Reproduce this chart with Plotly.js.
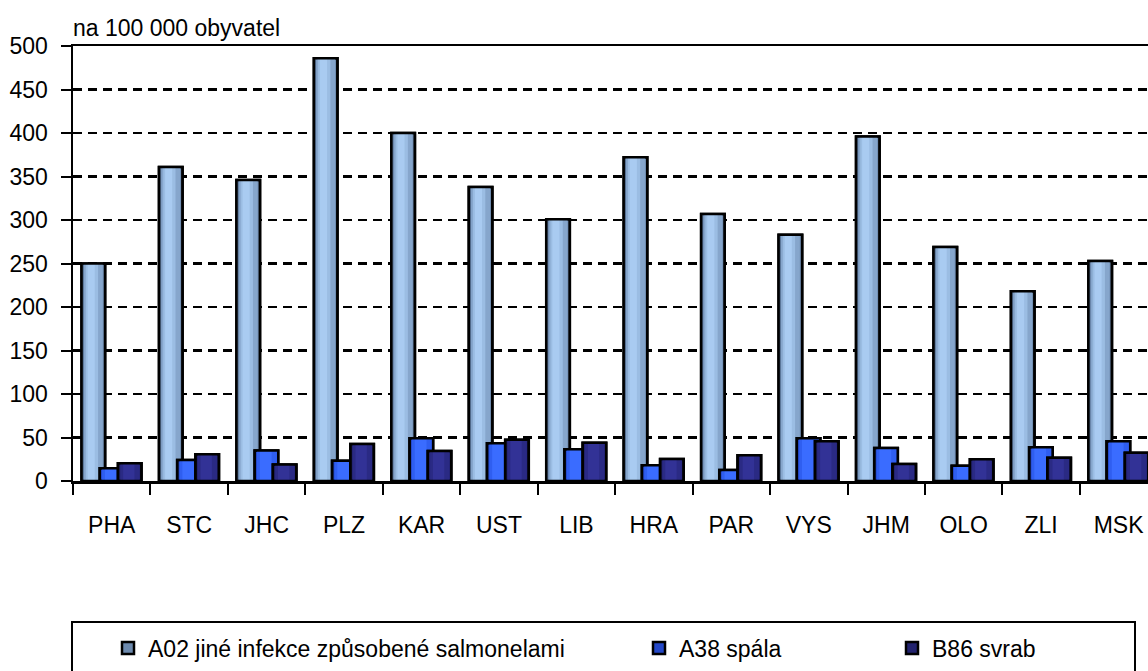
<!DOCTYPE html>
<html>
<head>
<meta charset="utf-8">
<script src="https://cdn.plot.ly/plotly-3.0.1.min.js"></script>
<style>html,body{margin:0;padding:0;background:#fff;}#chart{width:1148px;height:671px;}</style>
</head>
<body>
<div id="chart"></div>
<script>
// ---- data ----
const categories = ['PHA','STC','JHC','PLZ','KAR','UST','LIB','HRA','PAR','VYS','JHM','OLO','ZLI','MSK'];
const seriesNames = ['A02 jiné infekce způsobené salmonelami', 'A38 spála', 'B86 svrab'];
const a02 = [250, 361, 346, 486, 400, 338, 301, 372, 307, 283, 396, 269, 218, 253];
const a38 = [14.6, 24, 35, 23.4, 49, 43.3, 36.4, 18, 12.6, 49, 38, 17.6, 38.7, 45.6];
const b86 = [20.3, 30.7, 19, 42.5, 34.5, 47.5, 44, 25.3, 29.5, 45.6, 19.5, 25, 26.8, 32.5];
const yTicks = [0, 50, 100, 150, 200, 250, 300, 350, 400, 450, 500];
const yTitle = 'na 100 000 obyvatel';

// ---- style ----
const FONT = '"Liberation Sans Narrow", "Arial Narrow", "Liberation Sans", Arial, sans-serif';
const FS = 23;
const BW = 0.305;
const styles = [
  {data: a02, offset: -0.39, base: '#6d8aae', layers: [[0.0,0.09,'#50698a'],[0.10,0.90,'#86a6cc'],[0.18,0.70,'#9bbde3'],[0.26,0.56,'#a9cbf1']], legend: 'legend'},
  {data: a38, offset: -0.155, base: '#2448c8', layers: [[0.10,0.95,'#2f5ef0'],[0.22,0.72,'#3a6cff']], legend: 'legend2'},
  {data: b86, offset: 0.08, base: '#22226e', layers: [[0.10,0.92,'#2a2a84'],[0.22,0.70,'#323296']], legend: 'legend3'}
];

const traces = [];
styles.forEach((s, i) => {
  traces.push({
    type: 'bar', x: categories, y: s.data, name: seriesNames[i],
    offset: s.offset, width: BW,
    marker: {color: s.base, line: {color: '#000', width: 2.5}},
    legend: s.legend, hoverinfo: 'skip'
  });
  s.layers.forEach(l => {
    traces.push({
      type: 'bar', x: categories, y: s.data, showlegend: false,
      offset: s.offset + l[0] * BW, width: (l[1] - l[0]) * BW,
      marker: {color: l[2], line: {width: 0}}, hoverinfo: 'skip'
    });
  });
  traces.push({
    type: 'bar', x: categories, y: s.data, showlegend: false,
    offset: s.offset, width: BW,
    marker: {color: 'rgba(0,0,0,0)', line: {color: '#000', width: 2.5}}, hoverinfo: 'skip'
  });
});

const ML = 73, MT = 46, PW = 1075, PH = 435;
const CATW = 77.45;
const px2x = p => (p - ML) / PW;
const px2y = p => (MT + PH - p) / PH;

const legendCommon = {
  orientation: 'h', xanchor: 'left', yanchor: 'middle',
  font: {family: FONT, size: FS, color: '#000'},
  bgcolor: 'rgba(0,0,0,0)', borderwidth: 0, itemwidth: 30
};

const layout = {
  width: 1148, height: 671,
  margin: {l: ML, r: 0, t: MT, b: 671 - MT - PH, pad: 0},
  paper_bgcolor: '#fff', plot_bgcolor: '#fff',
  barmode: 'overlay',
  showlegend: true,
  font: {family: FONT, size: FS, color: '#000'},
  xaxis: {
    type: 'category', range: [-0.5, -0.5 + PW / CATW],
    showline: true, linecolor: '#000', linewidth: 2.5, mirror: true,
    ticks: 'outside', tickson: 'boundaries', ticklen: 11, tickwidth: 2, tickcolor: '#000',
    showgrid: false, zeroline: false,
    tickfont: {family: FONT, size: FS, color: '#000'},
    ticklabelstandoff: 22
  },
  yaxis: {
    range: [0, 500], tickvals: yTicks, ticktext: yTicks.map(String),
    showline: true, linecolor: '#000', linewidth: 2.5,
    ticks: 'outside', ticklen: 10, tickwidth: 2, tickcolor: '#000',
    showgrid: true, gridcolor: '#000', gridwidth: 2.8, griddash: '9px,6px',
    zeroline: false,
    tickfont: {family: FONT, size: FS, color: '#000'},
    ticklabelstandoff: 8
  },
  legend: Object.assign({}, legendCommon, {x: px2x(108), y: px2y(648)}),
  legend2: Object.assign({}, legendCommon, {x: px2x(639), y: px2y(648)}),
  legend3: Object.assign({}, legendCommon, {x: px2x(892), y: px2y(648)}),
  shapes: [{
    type: 'rect', xref: 'paper', yref: 'paper',
    x0: px2x(72), x1: px2x(1135), y0: px2y(622), y1: px2y(676),
    line: {color: '#000', width: 2}, fillcolor: 'rgba(0,0,0,0)', layer: 'below'
  }],
  annotations: [{
    text: yTitle, xref: 'paper', yref: 'paper', x: 0, y: 1, xanchor: 'left', yanchor: 'bottom',
    yshift: 3, xshift: -2, showarrow: false, font: {family: FONT, size: FS, color: '#000'}
  }]
};

Plotly.newPlot('chart', traces, layout, {staticPlot: true, displayModeBar: false});
</script>
</body>
</html>
